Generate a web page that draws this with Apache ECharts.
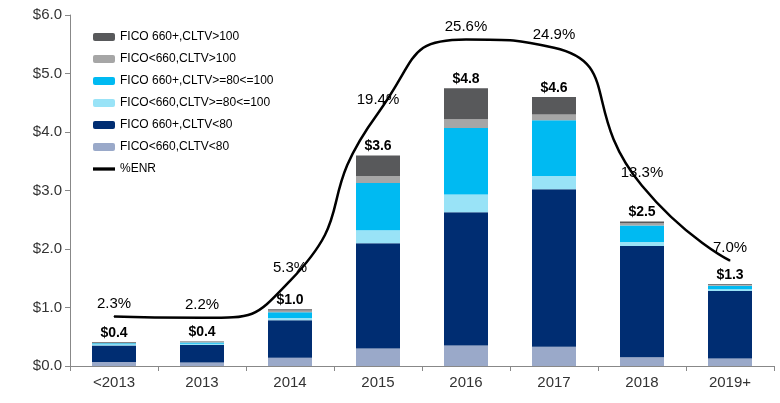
<!DOCTYPE html>
<html><head><meta charset="utf-8">
<script src="https://cdn.jsdelivr.net/npm/echarts@6/dist/echarts.min.js"></script>
<style>html,body{margin:0;padding:0;background:#fff}#c{width:780px;height:403px}</style>
</head><body><div id="c"></div>
<script>
const categories = ['<2013','2013','2014','2015','2016','2017','2018','2019+'];
const lowLow   = [0.07,0.06,0.14,0.30,0.35,0.33,0.15,0.13];
const hiLow    = [0.28,0.30,0.64,1.80,2.28,2.69,1.90,1.15];
const lowMid   = [0.02,0.02,0.04,0.22,0.30,0.23,0.07,0.03];
const hiMid    = [0.02,0.02,0.10,0.81,1.14,0.95,0.28,0.06];
const lowHigh  = [0.005,0.01,0.03,0.12,0.15,0.10,0.04,0.02];
const hiHigh   = [0.01,0.01,0.02,0.35,0.53,0.30,0.03,0.01];
const totals   = ['$0.4','$0.4','$1.0','$3.6','$4.8','$4.6','$2.5','$1.3'];
const enr      = [2.3,2.2,5.3,19.4,25.6,24.9,13.3,7.0];
const yTicks   = ['$0.0','$1.0','$2.0','$3.0','$4.0','$5.0','$6.0'];

const font = 'Liberation Sans, Arial, sans-serif';
function bar(name, data, color, top){
  const s = {name, type:'bar', stack:'a', data, barWidth:44, itemStyle:{color}};
  if(top) s.label = {show:true, position:'top', distance:2, formatter:p=>totals[p.dataIndex],
    fontFamily:font, fontWeight:'bold', fontSize:14, color:'#000'};
  return s;
}
const offs = [[0,-8],[0,-8],[0,-8],[-14,-8],[-6,-10],[20,2],[26,-2],[26,-8]];
const chart = echarts.init(document.getElementById('c'));
chart.setOption({
  animation:false,
  textStyle:{fontFamily:font},
  grid:{left:70, right:6, top:15, bottom:37},
  legend:{orient:'vertical', left:88, top:26, itemGap:10, itemWidth:22, itemHeight:8,
    textStyle:{fontSize:12, color:'#000', fontFamily:font},
    data:['FICO 660+,CLTV>100','FICO<660,CLTV>100','FICO 660+,CLTV>=80<=100','FICO<660,CLTV>=80<=100','FICO 660+,CLTV<80','FICO<660,CLTV<80',
      {name:'%ENR', icon:'path://M0,0L10,0L10,1.5L0,1.5Z'}]},
  xAxis:{type:'category', data:categories,
    axisLine:{lineStyle:{color:'#888'}}, axisTick:{show:true, interval:0, lineStyle:{color:'#888'}},
    axisLabel:{fontSize:15, color:'#333', margin:9}},
  yAxis:[{type:'value', min:0, max:6, interval:1,
    axisLine:{show:true, lineStyle:{color:'#888'}}, axisTick:{show:true, lineStyle:{color:'#888'}},
    splitLine:{show:false}, axisLabel:{fontSize:15, color:'#333', formatter:v=>yTicks[Math.round(v)]}},
   {type:'value', min:-1.85, max:27.65, show:false, splitLine:{show:false}}],
  series:[
    bar('FICO<660,CLTV<80', lowLow, '#9aa9c9'),
    bar('FICO 660+,CLTV<80', hiLow, '#002d72'),
    bar('FICO<660,CLTV>=80<=100', lowMid, '#99e3f7'),
    bar('FICO 660+,CLTV>=80<=100', hiMid, '#00baf2'),
    bar('FICO<660,CLTV>100', lowHigh, '#a6a6a6'),
    bar('FICO 660+,CLTV>100', hiHigh, '#58595b', true),
    {name:'%ENR', type:'line', yAxisIndex:1, smooth:0.6, symbol:'circle', symbolSize:1, showSymbol:true,
     data:enr.map((v,i)=>({value:v, label:{show:true, position:'top', offset:offs[i], fontSize:15, color:'#000',
        formatter:v.toFixed(1)+'%'}})),
     lineStyle:{color:'#000', width:2.5}, itemStyle:{color:'#000'},
     labelLayout:{hideOverlap:false}}
  ]
});
</script></body></html>
